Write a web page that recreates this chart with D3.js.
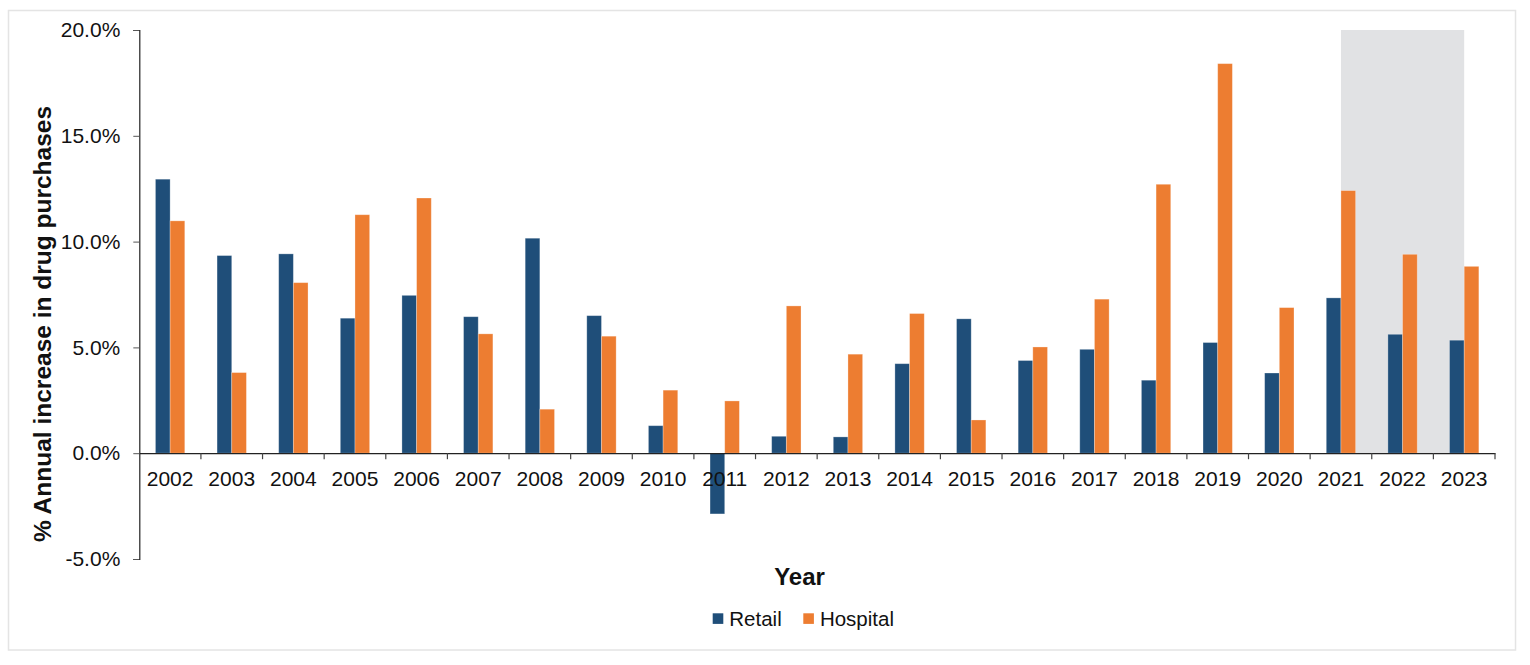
<!DOCTYPE html>
<html>
<head>
<meta charset="utf-8">
<script src="https://cdn.jsdelivr.net/npm/d3@7"></script>
<style>
  body { margin: 0; background: #fff; }
  text { font-family: "Liberation Sans", Arial, sans-serif; fill: #111; }
</style>
</head>
<body>
<div id="graphic"></div>
<script>
// data
const years = ["2002", "2003", "2004", "2005", "2006", "2007", "2008", "2009", "2010", "2011", "2012",
               "2013", "2014", "2015", "2016", "2017", "2018", "2019", "2020", "2021", "2022", "2023"];
const series = ["Retail", "Hospital"];
const retail = [12.95, 9.34, 9.42, 6.38, 7.46, 6.45, 10.16, 6.50, 1.30, -2.87, 0.80,
                0.77, 4.23, 6.35, 4.38, 4.91, 3.45, 5.23, 3.79, 7.34, 5.62, 5.34];
const hospital = [10.98, 3.81, 8.06, 11.27, 12.06, 5.64, 2.08, 5.53, 2.98, 2.47, 6.96,
                  4.68, 6.60, 1.57, 5.02, 7.28, 12.71, 18.41, 6.88, 12.41, 9.40, 8.83];
const yTicks = [-5, 0, 5, 10, 15, 20];
const shadeYears = ["2021", "2023"];   // projected period shading

const colors = { Retail: "#1f4e79", Hospital: "#ed7d31" };

const W = 1530, H = 665;
let margin = { top: 30, left: 139.3, right: W - 1495, bottom: H - 559 };
const width = W - margin.left - margin.right,
      height = H - margin.top - margin.bottom;

const root = d3.select("#graphic")
    .append("svg")
    .attr("width", W)
    .attr("height", H);

// outer frame
root.append("rect")
    .attr("x", 8.5).attr("y", 10.5)
    .attr("width", 1507).attr("height", 639.5)
    .attr("fill", "#fff")
    .attr("stroke", "#e4e4e4")
    .attr("stroke-width", 1.5);

const svg = root.append("g")
    .attr("transform", `translate(${margin.left},${margin.top})`);

const data = years.map((yr, i) => ({ year: yr, Retail: retail[i], Hospital: hospital[i] }));

const x = d3.scaleBand()
    .domain(years)
    .range([0, width])
    .padding(0);

const x1 = d3.scaleBand()
    .domain(series)
    .range([0, x.bandwidth()])
    .paddingInner(0)
    .paddingOuter(1.1);

const y = d3.scaleLinear()
    .domain([-5, 20])
    .range([height, 0]);

// shaded region
svg.append("rect")
    .attr("x", x(shadeYears[0]) + x.bandwidth() / 2)
    .attr("y", y(20))
    .attr("width", x(shadeYears[1]) - x(shadeYears[0]))
    .attr("height", y(0) - y(20))
    .attr("fill", "#e1e2e4");

// bars
svg.append("g")
    .selectAll("g")
    .data(data)
    .join("g")
    .attr("transform", d => `translate(${x(d.year)},0)`)
    .selectAll("rect")
    .data(d => series.map(s => ({ key: s, value: d[s] })))
    .join("rect")
    .attr("x", d => x1(d.key))
    .attr("y", d => y(Math.max(0, d.value)))
    .attr("width", x1.bandwidth())
    .attr("height", d => Math.abs(y(d.value) - y(0)))
    .attr("fill", d => colors[d.key])
    .attr("stroke", "#fff")
    .attr("stroke-opacity", 0.35)
    .attr("stroke-width", 0.8);

// Y axis
const yAxis = svg.append("g")
    .call(d3.axisLeft(y)
        .tickValues(yTicks)
        .tickSize(6)
        .tickPadding(13)
        .tickFormat(d => d.toFixed(1) + "%"));
yAxis.select(".domain").attr("stroke", "#222").attr("stroke-width", 1.2);
yAxis.selectAll(".tick line").attr("stroke", "#555");
yAxis.selectAll("text").style("font-size", "21px").attr("fill", "#111");

// X axis (labels centred on bands, ticks on band edges)
const xAxis = svg.append("g")
    .attr("transform", `translate(0,${y(0)})`)
    .call(d3.axisBottom(x).tickSize(0).tickPadding(17.8));
xAxis.select(".domain").attr("stroke", "#222").attr("stroke-width", 1.2);
xAxis.selectAll("text").style("font-size", "21px").attr("fill", "#111");

xAxis.selectAll("line.edge")
    .data(years.slice(1).map(d => x(d)).concat([width]))
    .join("line")
    .attr("class", "edge")
    .attr("x1", d => d).attr("x2", d => d)
    .attr("y1", 0).attr("y2", 6)
    .attr("stroke", "#444")
    .attr("stroke-width", 1.2);

// axis titles
root.append("text")
    .attr("transform", "translate(51,324) rotate(-90)")
    .attr("text-anchor", "middle")
    .style("font-size", "24.5px")
    .style("font-weight", "bold")
    .text("% Annual increase in drug purchases");

root.append("text")
    .attr("x", 799.5)
    .attr("y", 585)
    .attr("text-anchor", "middle")
    .style("font-size", "24px")
    .style("font-weight", "bold")
    .text("Year");

// legend
const legend = root.append("g")
    .attr("transform", "translate(712.7,613.3)");
const item = legend.selectAll("g")
    .data(series)
    .join("g")
    .attr("transform", (d, i) => `translate(${i * 90.6},0)`);
item.append("rect")
    .attr("width", 10.6)
    .attr("height", 10.6)
    .attr("fill", d => colors[d]);
item.append("text")
    .attr("x", 16.6)
    .attr("y", 12.4)
    .style("font-size", "20.5px")
    .text(d => d);
</script>
</body>
</html>
